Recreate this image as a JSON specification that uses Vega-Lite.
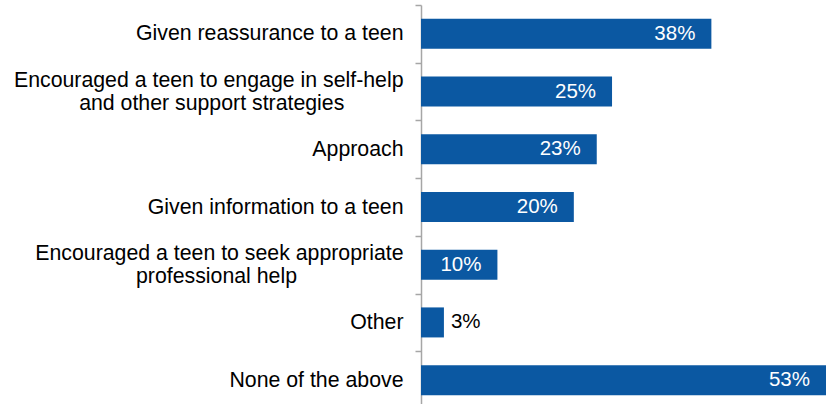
{
  "$schema": "https://vega.github.io/schema/vega-lite/v6.json",
  "width": 405,
  "height": 404,
  "autosize": "none",
  "padding": {"left": 421, "top": 5, "right": 3, "bottom": 0},
  "background": "white",
  "config": {"view": {"stroke": null}, "font": "Liberation Sans"},
  "data": {
    "values": [
      {"item": "Given reassurance to a teen", "pct": 0.38},
      {"item": "Encouraged a teen to engage in self-help and other support strategies", "pct": 0.25},
      {"item": "Approach", "pct": 0.23},
      {"item": "Given information to a teen", "pct": 0.20},
      {"item": "Encouraged a teen to seek appropriate professional help", "pct": 0.10},
      {"item": "Other", "pct": 0.03},
      {"item": "None of the above", "pct": 0.53}
    ]
  },
  "encoding": {
    "y": {
      "field": "item",
      "type": "nominal",
      "sort": null,
      "scale": {"paddingInner": 0, "paddingOuter": 0},
      "axis": {
        "title": null,
        "domainColor": "#A6A6A6",
        "domainWidth": 1.5,
        "ticks": true,
        "tickColor": "#A6A6A6",
        "tickWidth": 1.5,
        "tickSize": 6,
        "tickBand": "extent",
        "labelFont": "Liberation Sans",
        "labelFontSize": 21.3,
        "labelColor": "black",
        "labelPadding": 12,
        "labelLimit": 0,
        "labelLineHeight": 23,
        "labelBaseline": {"condition": {"test": "isString(datum.value) && indexof(datum.value, 'Encouraged') == 0", "value": "line-bottom"}, "value": "middle"},
        "labelExpr": "datum.value == 'Encouraged a teen to engage in self-help and other support strategies' ? ['Encouraged a teen to engage in self-help', 'and other support strategies\u00A0\u00A0\u00A0\u00A0\u00A0\u00A0\u00A0\u00A0\u00A0\u00A0\u2060'] : datum.value == 'Encouraged a teen to seek appropriate professional help' ? ['Encouraged a teen to seek appropriate', 'professional help\u00A0\u00A0\u00A0\u00A0\u00A0\u00A0\u00A0\u00A0\u00A0\u00A0\u00A0\u00A0\u00A0\u00A0\u00A0\u00A0\u00A0\u00A0\u2060'] : datum.value"
      }
    },
    "x": {
      "field": "pct",
      "type": "quantitative",
      "scale": {"domain": [0, 0.53], "nice": false},
      "axis": null
    }
  },
  "layer": [
    {"mark": {"type": "bar", "color": "#0B58A2", "height": {"band": 0.52}}},
    {
      "transform": [{"filter": "datum.pct >= 0.05"}],
      "mark": {"type": "text", "align": "right", "baseline": "middle", "dx": -16, "color": "white", "fontSize": 20.5, "font": "Liberation Sans"},
      "encoding": {"text": {"field": "pct", "type": "quantitative", "format": ".0%"}}
    },
    {
      "transform": [{"filter": "datum.pct < 0.05"}],
      "mark": {"type": "text", "align": "left", "baseline": "middle", "dx": 7, "color": "black", "fontSize": 20.5, "font": "Liberation Sans"},
      "encoding": {"text": {"field": "pct", "type": "quantitative", "format": ".0%"}}
    }
  ]
}
